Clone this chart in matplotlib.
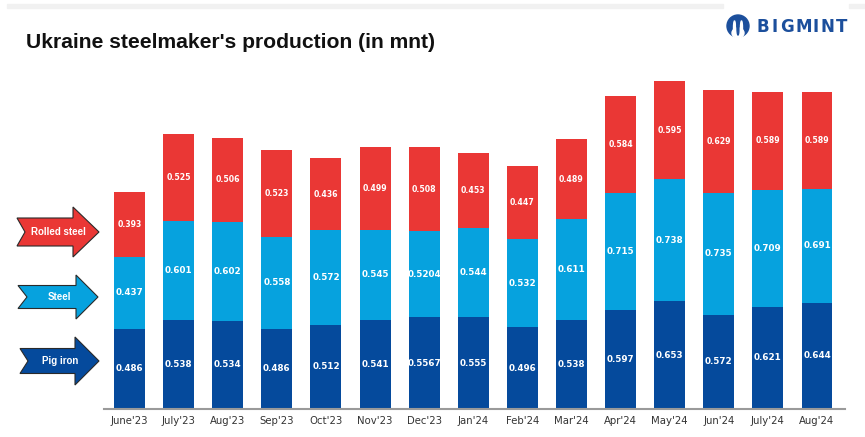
import matplotlib
matplotlib.use("Agg")
import matplotlib.pyplot as plt
from matplotlib.patches import Polygon, Rectangle, Ellipse

months = ["June'23", "July'23", "Aug'23", "Sep'23", "Oct'23", "Nov'23", "Dec'23",
          "Jan'24", "Feb'24", "Mar'24", "Apr'24", "May'24", "Jun'24", "July'24", "Aug'24"]
pig_iron = [0.486, 0.538, 0.534, 0.486, 0.512, 0.541, 0.5567, 0.555, 0.496, 0.538,
            0.597, 0.653, 0.572, 0.621, 0.644]
steel = [0.437, 0.601, 0.602, 0.558, 0.572, 0.545, 0.5204, 0.544, 0.532, 0.611,
         0.715, 0.738, 0.735, 0.709, 0.691]
rolled = [0.393, 0.525, 0.506, 0.523, 0.436, 0.499, 0.508, 0.453, 0.447, 0.489,
          0.584, 0.595, 0.629, 0.589, 0.589]
pig_txt = ["0.486", "0.538", "0.534", "0.486", "0.512", "0.541", "0.5567", "0.555",
           "0.496", "0.538", "0.597", "0.653", "0.572", "0.621", "0.644"]
steel_txt = ["0.437", "0.601", "0.602", "0.558", "0.572", "0.545", "0.5204", "0.544",
             "0.532", "0.611", "0.715", "0.738", "0.735", "0.709", "0.691"]
rolled_txt = ["0.393", "0.525", "0.506", "0.523", "0.436", "0.499", "0.508", "0.453",
              "0.447", "0.489", "0.584", "0.595", "0.629", "0.589", "0.589"]

DARK = "#054a9c"
LIGHT = "#06a2de"
RED = "#ea3735"
LOGO = "#1c4f9c"

W, H = 865, 437
fig = plt.figure(figsize=(W / 100, H / 100), dpi=100)
fig.patch.set_facecolor("white")


def fx(px):
    return px / W


def fy(py):
    return 1 - py / H


# axes placed in pixel terms
ax = fig.add_axes([fx(104), 28 / H, (845 - 104) / W, 330 / H])
x = list(range(len(months)))
bw = 0.63
base2 = [p + s for p, s in zip(pig_iron, steel)]
ax.bar(x, pig_iron, width=bw, color=DARK)
ax.bar(x, steel, width=bw, bottom=pig_iron, color=LIGHT)
ax.bar(x, rolled, width=bw, bottom=base2, color=RED)

lbl = dict(ha="center", va="center", color="white", fontweight="bold")
for i in x:
    ax.text(i, pig_iron[i] / 2, pig_txt[i], fontsize=6.3, **lbl)
    ax.text(i, pig_iron[i] + steel[i] / 2, steel_txt[i], fontsize=6.3, **lbl)
    ax.text(i, base2[i] + rolled[i] / 2, rolled_txt[i], fontsize=5.6, **lbl)

ax.set_xlim(-0.52, 14.57)
ax.set_ylim(0, 2.0)
ax.set_xticks(x)
ax.set_xticklabels(months, fontsize=7.3, color="#333333")
ax.tick_params(axis="x", length=0, pad=5)
ax.set_yticks([])
for s in ["top", "right", "left"]:
    ax.spines[s].set_visible(False)
ax.spines["bottom"].set_color("#9a9a9a")
ax.spines["bottom"].set_linewidth(1.5)

# title
fig.text(fx(26), fy(42), "Ukraine steelmaker's production (in mnt)", fontsize=15.2,
         fontweight="bold", family="Liberation Sans", color="#111111",
         va="center", ha="left")

# faint band at top
fig.patches.append(Rectangle((fx(7), fy(8)), (723 - 7) / W, 4 / H,
                             transform=fig.transFigure, color="#f1f1f1", zorder=0))
fig.patches.append(Rectangle((fx(849), fy(8)), (865 - 849) / W, 4 / H,
                             transform=fig.transFigure, color="#f1f1f1", zorder=0))

# logo
fig.patches.append(Ellipse((fx(738), fy(26)), 22 / W, 22 / H, transform=fig.transFigure,
                           color=LOGO))
fig.patches.append(Ellipse((fx(738), fy(33)), 12 / W, 10 / H, transform=fig.transFigure,
                           color="white"))
for dx in (-3.5, 0, 3.5):
    fig.patches.append(Ellipse((fx(738 + dx), fy(28)), 2 / W, 14 / H,
                               transform=fig.transFigure, color=LOGO if dx == 0 else "white"))
lx = 757
for ch, w in zip("BIGMINT", [14.5, 8.5, 15.5, 17, 8.5, 15, 12]):
    fig.text(fx(lx), fy(27), ch, fontsize=12, fontweight="bold", family="DejaVu Sans",
             color=LOGO, va="center", ha="left")
    lx += w


def arrow(tail_x, notch_x, body_end, tip_x, cy, body_h, head_h, color, label, tx):
    pts = [(tail_x, cy - body_h / 2), (body_end, cy - body_h / 2),
           (body_end, cy - head_h / 2), (tip_x, cy), (body_end, cy + head_h / 2),
           (body_end, cy + body_h / 2), (tail_x, cy + body_h / 2), (notch_x, cy)]
    pts = [(fx(px), fy(py)) for px, py in pts]
    fig.patches.append(Polygon(pts, closed=True, transform=fig.transFigure,
                               facecolor=color, edgecolor="#2a2a2a", linewidth=0.8))
    fig.text(fx(tx), fy(cy), label, color="white", family="Liberation Sans",
             fontsize=7, fontweight="bold", ha="center", va="center")


arrow(17, 25, 73, 99, 232, 28, 50, RED, "Rolled steel", 58)
arrow(18, 27, 76, 98, 297, 23, 44, LIGHT, "Steel", 59)
arrow(20, 28, 75, 99, 361, 25, 48, DARK, "Pig iron", 60)

fig.savefig("out.png", dpi=100)
